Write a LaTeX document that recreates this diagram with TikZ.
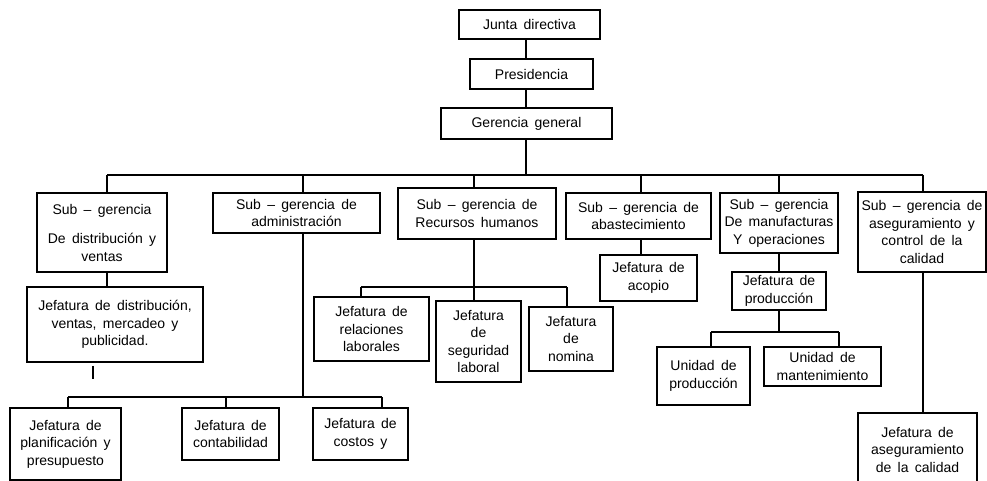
\documentclass[tikz,border=0pt]{standalone}
\usepackage{fontspec}
\setmainfont{Liberation Sans}
\newcommand\letracaja{\fontsize{14}{17.5}\selectfont\spaceskip=0.45em\relax}
\begin{document}
\begin{tikzpicture}[x=1pt,y=-1pt,
  caja/.style={draw, line width=1.5pt, align=center, inner sep=0pt,
    font=\letracaja},
  linea/.style={line width=1.5pt}]
  \useasboundingbox (0,0) rectangle (987,481);
  % direccion
  \node[caja, minimum width=141, minimum height=29] (junta) at (529.5,24.5) {Junta directiva};
  \node[caja, minimum width=123, minimum height=30] (pres) at (531.5,74) {Presidencia};
  \node[caja, minimum width=171, minimum height=31] (gg) at (526.5,123.5) {Gerencia general};
  \coordinate (eje) at (526,175);
  % sub gerencias
  \node[caja, minimum width=130, minimum height=79] (s1) at (102,232.5) {Sub – gerencia\\[12pt]De distribución y\\ventas};
  \node[caja, minimum width=167, minimum height=40] (s2) at (296.5,213) {Sub – gerencia de\\administración};
  \node[caja, minimum width=158, minimum height=51] (s3) at (477,213.5) {Sub – gerencia de\\Recursos humanos};
  \node[caja, minimum width=145, minimum height=46] (s4) at (638.5,216) {Sub – gerencia de\\abastecimiento};
  \node[caja, minimum width=118, minimum height=60] (s5) at (779,223) {Sub – gerencia\\De manufacturas\\Y operaciones};
  \node[caja, minimum width=128, minimum height=80] (s6) at (922,232) {Sub – gerencia de\\aseguramiento y\\control de la\\calidad};
  \coordinate (d1) at (107,175);
  \coordinate (d2) at (303,175);
  \coordinate (d3) at (474,175);
  \coordinate (d4) at (641,175);
  \coordinate (d5) at (779,175);
  \coordinate (d6) at (923,175);
  % jefaturas
  \node[caja, minimum width=176, minimum height=75] (j1) at (115,324.5) {Jefatura de distribución,\\ventas, mercadeo y\\publicidad.};
  \node[caja, minimum width=111, minimum height=72] (j2) at (65.5,444) {Jefatura de\\planificación y\\presupuesto};
  \node[caja, minimum width=97, minimum height=52] (j3) at (230.5,434) {Jefatura de\\contabilidad};
  \node[caja, minimum width=95, minimum height=52] (j4) at (360.5,434) {Jefatura de\\costos y};
  \node[caja, minimum width=115, minimum height=64] (rel) at (371.5,329) {Jefatura de\\relaciones\\laborales};
  \node[caja, minimum width=85, minimum height=81] (seg) at (478.5,341.5) {Jefatura\\de\\seguridad\\laboral};
  \node[caja, minimum width=84, minimum height=64] (nom) at (571,339) {Jefatura\\de\\nomina};
  \node[caja, minimum width=97, minimum height=46] (acopio) at (648.5,278) {Jefatura de\\acopio};
  \node[caja, minimum width=94, minimum height=38] (jp) at (779,291) {Jefatura de\\producción};
  \node[caja, minimum width=93, minimum height=58] (up) at (703.5,376) {Unidad de\\producción};
  \node[caja, minimum width=117, minimum height=39] (um) at (822.5,366.5) {Unidad de\\mantenimiento};
  \node[caja, minimum width=119, minimum height=73] (ja) at (917.5,449.5) {Jefatura de\\aseguramiento\\de la calidad};
  \coordinate (cola) at (93,379);
  \coordinate (bA) at (68,397);
  \coordinate (bB) at (226,397);
  \coordinate (bC) at (382,397);
  \coordinate (rA) at (361,287);
  \coordinate (rC) at (567,287);
  \coordinate (mA) at (711,332);
  \coordinate (mB) at (839,332);
  % conectores
  \draw[linea] (eje |- junta.south) -- (eje |- pres.north);
  \draw[linea] (eje |- pres.south) -- (eje |- gg.north);
  \draw[linea] (eje |- gg.south) -- (eje);
  \draw[linea] (d1) -- (d6);
  \foreach \d/\s in {d1/s1,d2/s2,d3/s3,d4/s4,d5/s5,d6/s6}
    \draw[linea] (\d) -- (\d |- \s.north);
  \draw[linea] (d1 |- s1.south) -- (d1 |- j1.north);
  \draw[linea] ([yshift=-3pt]cola |- j1.south) -- (cola);
  \draw[linea] (d2 |- s2.south) -- (d2 |- bA);
  \draw[linea] (bA) -- (bC);
  \foreach \b/\j in {bA/j2,bB/j3,bC/j4}
    \draw[linea] (\b) -- (\b |- \j.north);
  \draw[linea] (d3 |- s3.south) -- (d3 |- seg.north);
  \draw[linea] (rA) -- (rC);
  \draw[linea] (rA) -- (rA |- rel.north);
  \draw[linea] (rC) -- (rC |- nom.north);
  \draw[linea] (d4 |- s4.south) -- (d4 |- acopio.north);
  \draw[linea] (d5 |- s5.south) -- (d5 |- jp.north);
  \draw[linea] (d5 |- jp.south) -- (d5 |- mA);
  \draw[linea] (mA) -- (mB);
  \draw[linea] (mA) -- (mA |- up.north);
  \draw[linea] (mB) -- (mB |- um.north);
  \draw[linea] (d6 |- s6.south) -- (d6 |- ja.north);
\end{tikzpicture}
\end{document}
